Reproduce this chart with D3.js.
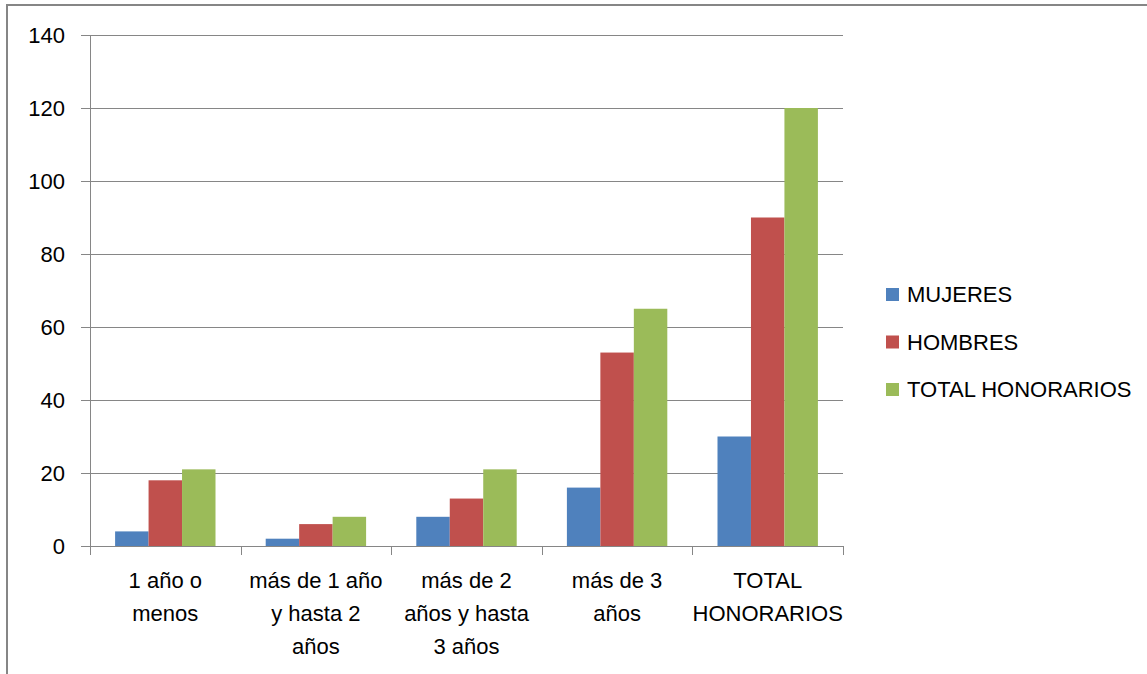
<!DOCTYPE html>
<html><head><meta charset="utf-8">
<script src="https://cdn.jsdelivr.net/npm/d3@7"></script>
<style>html,body{margin:0;padding:0;background:#fff;overflow:hidden}svg{display:block}</style>
</head><body>
<svg id="c" width="1147" height="674"></svg>
<script>
const categories = ["1 año o\nmenos", "más de 1 año\ny hasta 2\naños", "más de 2\naños y hasta\n3 años", "más de 3\naños", "TOTAL\nHONORARIOS"];
const seriesNames = ["MUJERES", "HOMBRES", "TOTAL HONORARIOS"];
const mujeres = [4, 2, 8, 16, 30];
const hombres = [18, 6, 13, 53, 90];
const totalHonorarios = [21, 8, 21, 65, 120];
const yTicks = [0, 20, 40, 60, 80, 100, 120, 140];
const colors = ["#4F81BD", "#C0504D", "#9BBB59"];
const seriesValues = [mujeres, hombres, totalHonorarios];

const svg = d3.select("#c");
const font = "Liberation Sans, Arial, sans-serif";
const fs = 22;

// outer frame
svg.append("rect").attr("x", 7).attr("y", 5).attr("width", 1200).attr("height", 720)
  .attr("fill", "none").attr("stroke", "#868686").attr("stroke-width", 2);

const pLeft = 90, pRight = 843, pTop = 35, pBottom = 546;
const x = d3.scaleBand().domain(categories).range([pLeft, pRight]).paddingInner(0).paddingOuter(0);
const bw = x.bandwidth();
const xs = d3.scaleBand().domain(seriesNames).range([bw / 6, bw * 5 / 6]).padding(0);
const y = d3.scaleLinear().domain([0, 140]).range([pBottom, pTop]);

// gridlines
svg.append("g").selectAll("line").data(yTicks).join("line")
  .attr("x1", pLeft - 9).attr("x2", pRight)
  .attr("y1", d => Math.round(y(d)) + 0.5).attr("y2", d => Math.round(y(d)) + 0.5)
  .attr("stroke", "#868686").attr("stroke-width", 1);

// y axis line
svg.append("line").attr("x1", pLeft + 0.5).attr("x2", pLeft + 0.5).attr("y1", pTop).attr("y2", pBottom)
  .attr("stroke", "#868686");

// y labels
svg.append("g").selectAll("text").data(yTicks).join("text")
  .attr("x", 65).attr("y", d => y(d)).attr("dy", "0.36em")
  .attr("text-anchor", "end").attr("font-family", font).attr("font-size", fs).attr("fill", "#000")
  .text(d => d);

// bars
const groups = svg.append("g").selectAll("g").data(categories).join("g")
  .attr("transform", d => `translate(${x(d)},0)`);
groups.selectAll("rect").data((d, i) => seriesNames.map((s, j) => ({ s, j, v: seriesValues[j][i] }))).join("rect")
  .attr("x", d => xs(d.s)).attr("width", xs.bandwidth())
  .attr("y", d => y(d.v)).attr("height", d => y(0) - y(d.v))
  .attr("fill", d => colors[d.j]);

// x axis baseline + ticks
const bounds = categories.map(c => x(c)).concat([pRight]);
svg.append("g").selectAll("line").data(bounds).join("line")
  .attr("x1", d => Math.round(d) + 0.5).attr("x2", d => Math.round(d) + 0.5)
  .attr("y1", pBottom).attr("y2", pBottom + 9).attr("stroke", "#868686");
svg.append("line").attr("x1", pLeft).attr("x2", pRight).attr("y1", Math.round(y(0)) + 0.5).attr("y2", Math.round(y(0)) + 0.5)
  .attr("stroke", "#868686");

// category labels
const lab = svg.append("g").selectAll("text").data(categories).join("text")
  .attr("text-anchor", "middle").attr("font-family", font).attr("font-size", fs).attr("fill", "#000")
  .attr("x", d => x(d) + bw / 2).attr("y", 588);
lab.selectAll("tspan").data(d => d.split("\n")).join("tspan")
  .attr("x", function () { return d3.select(this.parentNode).attr("x"); })
  .attr("dy", (d, i) => i === 0 ? 0 : 33).text(d => d);

// legend
const lg = svg.append("g").selectAll("g").data(seriesNames).join("g")
  .attr("transform", (d, i) => `translate(886,${288 + i * 47.5})`);
lg.append("rect").attr("width", 13).attr("height", 13).attr("fill", (d, i) => colors[i]);
lg.append("text").attr("x", 21).attr("y", 14).attr("font-family", font).attr("font-size", fs).attr("fill", "#000").text(d => d);
</script>
</body></html>
